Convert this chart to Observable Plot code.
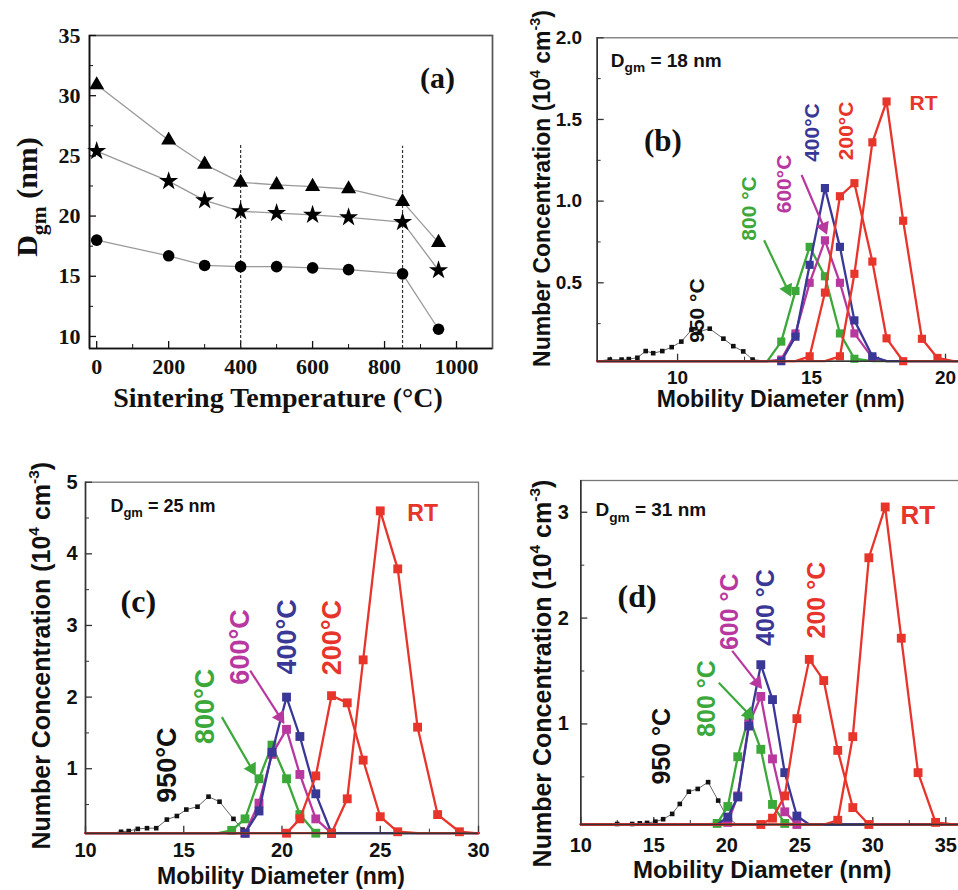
<!DOCTYPE html>
<html>
<head>
<meta charset="utf-8">
<script src="https://cdn.jsdelivr.net/npm/d3@7"></script>
<script src="https://cdn.jsdelivr.net/npm/@observablehq/plot@0.6"></script>
<style>
  html, body { margin: 0; padding: 0; background: #fff; overflow: hidden; }
  #wrap { position: relative; width: 958px; height: 890px; overflow: hidden; background: #fff; }
  .pan { position: absolute; }
</style>
</head>
<body>
<div id="wrap"></div>
<script>
// ---------------- DATA ----------------
// (a) geometric mean diameter vs sintering temperature
const tempsA = [0, 200, 300, 400, 500, 600, 700, 850, 950];
const dgmTriangle = [30.9, 26.3, 24.3, 22.8, 22.6, 22.45, 22.25, 21.2, 17.8];
const dgmStar = [25.4, 22.9, 21.3, 20.4, 20.25, 20.1, 19.9, 19.5, 15.5];
const dgmCircle = [18.0, 16.7, 15.9, 15.8, 15.8, 15.7, 15.55, 15.2, 10.6];
const dashedTemps = [400, 850];
const dashedTops = [26.0, 25.8];

// (b) Dgm = 18 nm
const bDiam950 = [7.0, 7.47, 7.91, 8.18, 8.5, 8.81, 9.09, 9.43, 9.78, 10.14, 10.52, 10.83, 11.2, 11.71, 12.08, 12.45, 12.8, 13.3];
const bConc950 = [0, 0.03, 0.03, 0.033, 0.041, 0.082, 0.069, 0.082, 0.106, 0.14, 0.212, 0.202, 0.219, 0.158, 0.112, 0.08, 0.03, 0];
const bDiam = [7, 13.35, 13.87, 14.4, 14.93, 15.5, 16.06, 16.6, 17.27, 17.8, 18.42, 19.12, 19.7, 20.3, 21];
const bConc800 = [0, 0, 0.14, 0.45, 0.72, 0.54, 0.19, 0.035, 0, 0, 0, 0, 0, 0, 0];
const bConc600 = [0, 0, 0.03, 0.19, 0.5, 0.76, 0.5, 0.19, 0.04, 0, 0, 0, 0, 0, 0];
const bConc400 = [0, 0, 0.02, 0.17, 0.61, 1.08, 0.72, 0.27, 0.05, 0, 0, 0, 0, 0, 0];
const bConc200 = [0, 0, 0, 0, 0.05, 0.44, 1.03, 1.11, 0.63, 0.16, 0.02, 0, 0, 0, 0];
const bConcRT  = [0, 0, 0, 0, 0, 0, 0.05, 0.555, 1.36, 1.61, 0.88, 0.157, 0.04, 0, 0];

// (c) Dgm = 25 nm
const cDiam950 = [11.3, 11.81, 12.2, 12.66, 13.13, 13.6, 14.14, 14.65, 15.13, 15.7, 16.26, 16.82, 17.53, 18.0, 18.48];
const cConc950 = [0, 0.12, 0.13, 0.16, 0.17, 0.17, 0.29, 0.34, 0.43, 0.47, 0.61, 0.54, 0.3, 0.15, 0];
const cDiam = [10, 16.75, 17.44, 18.12, 18.83, 19.49, 20.23, 20.91, 21.72, 22.52, 23.32, 24.13, 25.0, 25.89, 26.9, 27.92, 29.03, 29.84, 30];
const cConc800 = [0, 0, 0.14, 0.3, 0.86, 1.33, 0.86, 0.36, 0.05, 0, 0, 0, 0, 0, 0, 0, 0, 0, 0];
const cConc600 = [0, 0, 0, 0.1, 0.52, 1.2, 1.55, 0.92, 0.3, 0.1, 0, 0, 0, 0, 0, 0, 0, 0, 0];
const cConc400 = [0, 0, 0, 0.05, 0.41, 1.23, 2.0, 1.45, 0.65, 0.1, 0, 0, 0, 0, 0, 0, 0, 0, 0];
const cConc200 = [0, 0, 0, 0, 0, 0, 0.05, 0.3, 0.9, 2.02, 1.92, 1.12, 0.33, 0.12, 0, 0, 0, 0, 0];
const cConcRT  = [0, 0, 0, 0, 0, 0, 0, 0, 0, 0.05, 0.58, 2.52, 4.6, 3.79, 1.58, 0.36, 0.12, 0, 0];

// (d) Dgm = 31 nm
const dDiam950 = [10, 12.49, 13.52, 14.04, 14.54, 15.11, 15.64, 16.26, 16.78, 17.4, 18.01, 18.72, 19.41, 20.02, 20.7];
const dConc950 = [0, 0.055, 0.055, 0.061, 0.065, 0.077, 0.1, 0.15, 0.244, 0.36, 0.386, 0.45, 0.276, 0.118, 0];
const dDiam = [10, 18.6, 19.34, 20.07, 20.75, 21.51, 22.33, 23.13, 23.97, 24.8, 25.65, 26.64, 27.6, 28.63, 29.73, 30.85, 31.95, 33.1, 34.3, 35.5, 36.5];
const dConc800 = [0, 0, 0.06, 0.22, 0.69, 1.07, 0.76, 0.24, 0.06, 0, 0, 0, 0, 0, 0, 0, 0, 0, 0, 0, 0];
const dConc600 = [0, 0, 0, 0.07, 0.32, 1.0, 1.26, 0.67, 0.17, 0.05, 0, 0, 0, 0, 0, 0, 0, 0, 0, 0, 0];
const dConc400 = [0, 0, 0, 0.12, 0.31, 0.98, 1.56, 1.23, 0.54, 0.13, 0, 0, 0, 0, 0, 0, 0, 0, 0, 0, 0];
const dConc200 = [0, 0, 0, 0, 0, 0, 0.05, 0.11, 0.32, 1.05, 1.61, 1.41, 0.75, 0.21, 0.03, 0, 0, 0, 0, 0, 0];
const dConcRT  = [0, 0, 0, 0, 0, 0, 0, 0, 0, 0, 0, 0, 0.09, 0.88, 2.57, 3.05, 1.81, 0.54, 0.07, 0, 0];

// tick values
const aXTicks = [0, 200, 400, 600, 800, 1000], aXMinor = [100, 300, 500, 700, 900];
const aYTicks = [10, 15, 20, 25, 30, 35], aYMinor = [12.5, 17.5, 22.5, 27.5, 32.5];
const bXTicks = [10, 15, 20], bXMinor = [7.5, 12.5, 17.5];
const bYTicks = [0.5, 1.0, 1.5, 2.0], bYMinor = [0.25, 0.75, 1.25, 1.75];
const cXTicks = [10, 15, 20, 25, 30], cXMinor = [12.5, 17.5, 22.5, 27.5];
const cYTicks = [1, 2, 3, 4, 5], cYMinor = [0.5, 1.5, 2.5, 3.5, 4.5];
const dXTicks = [10, 15, 20, 25, 30, 35], dXMinor = [12.5, 17.5, 22.5, 27.5, 32.5];
const dYTicks = [1, 2, 3], dYMinor = [0.5, 1.5, 2.5];

// annotations (text, data coordinates)
const bNotes = [
  {key: "RT", text: "RT", x: 19.18, y: 1.6},
  {key: "200", text: "200°C", x: 16.31, y: 1.43},
  {key: "400", text: "400°C", x: 15.03, y: 1.42},
  {key: "600", text: "600°C", x: 13.97, y: 1.105},
  {key: "800", text: "800 °C", x: 12.67, y: 0.955},
  {key: "950", text: "950 °C", x: 10.75, y: 0.33}
];
const bArrows = [
  {key: "800", x1: 13.23, y1: 0.76, x2: 14.1, y2: 0.46},
  {key: "600", x1: 14.63, y1: 1.16, x2: 15.46, y2: 0.84}
];
const cNotes = [
  {key: "RT", text: "RT", x: 27.16, y: 4.56},
  {key: "200", text: "200°C", x: 22.57, y: 2.83},
  {key: "400", text: "400°C", x: 20.27, y: 2.84},
  {key: "600", text: "600°C", x: 17.87, y: 2.7},
  {key: "800", text: "800°C", x: 16.09, y: 1.87},
  {key: "950", text: "950°C", x: 14.15, y: 1.05}
];
const cArrows = [
  {key: "800", x1: 16.94, y1: 1.72, x2: 18.46, y2: 1.0},
  {key: "600", x1: 18.38, y1: 2.37, x2: 19.9, y2: 1.72}
];
const dNotes = [
  {key: "RT", text: "RT", x: 33.08, y: 2.97},
  {key: "200", text: "200 °C", x: 26.2, y: 2.17},
  {key: "400", text: "400 °C", x: 22.7, y: 2.1},
  {key: "600", text: "600 °C", x: 20.25, y: 2.06},
  {key: "800", text: "800 °C", x: 18.66, y: 1.24},
  {key: "950", text: "950 °C", x: 15.57, y: 0.79}
];
const dArrows = [
  {key: "800", x1: 19.45, y1: 1.39, x2: 21.5, y2: 1.095},
  {key: "600", x1: 20.37, y1: 1.69, x2: 22.08, y2: 1.39}
];

// ---------------- STYLE ----------------
const SANS = "'Liberation Sans', Arial, Helvetica, sans-serif";
const SERIF = "'Liberation Serif', 'Times New Roman', Times, serif";
const COLORS = {RT: "#e7352c", "200": "#e7352c", "400": "#3a3896", "600": "#b8389f", "800": "#3ca83a", "950": "#111111"};

function richify(svg) {
  svg.querySelectorAll("text").forEach(t => {
    const s = t.textContent;
    if (!/[_^]\{/.test(s)) return;
    const fs = parseFloat(getComputedStyle(t).fontSize) || 16;
    const parts = s.split(/([_^]\{[^}]*\})/).filter(p => p.length);
    t.textContent = "";
    let shift = 0;
    for (const p of parts) {
      const ts = document.createElementNS("http://www.w3.org/2000/svg", "tspan");
      let target = 0, txt = p, size = null;
      if (p.startsWith("_{")) { target = 0.28 * fs; txt = p.slice(2, -1); size = 0.72 * fs; }
      else if (p.startsWith("^{")) { target = -0.42 * fs; txt = p.slice(2, -1); size = 0.62 * fs; }
      const d = target - shift;
      if (d !== 0) ts.setAttribute("dy", d);
      if (size) ts.setAttribute("font-size", size);
      shift = target;
      ts.textContent = txt;
      t.appendChild(ts);
    }
  });
}

function series(xs, ys, key, r) {
  const data = xs.map((x, i) => ({x, y: ys[i]}));
  const black = key === "950";
  return [
    Plot.line(data, {x: "x", y: "y", stroke: black ? "#666" : COLORS[key], strokeWidth: black ? 1 : 2.3}),
    Plot.dot(data.filter(d => d.y > 0), {x: "x", y: "y", symbol: "square", fill: COLORS[key], r: black ? 2.6 : r})
  ];
}

function notes(list, fs, rtFs) {
  return list.map(n => Plot.text([n], {
    x: "x", y: "y", text: "text", fill: COLORS[n.key], rotate: n.key === "RT" ? 0 : -90,
    textAnchor: "middle", lineAnchor: "middle",
    fontSize: n.key === "RT" ? rtFs : fs, fontWeight: "bold", fontFamily: SANS
  }));
}

function panel(o) {
  const fw = o.width - o.ml - o.mr, fh = o.height - o.mt - o.mb;
  const kx = fw / (o.xDomain[1] - o.xDomain[0]), ky = fh / (o.yDomain[1] - o.yDomain[0]);
  const ax = o.axisColor || "#222";
  const font = o.font;
  // arrows: shaft + filled head oriented along the shaft (angle from the scales)
  const arrowMarks = (o.arrows || []).flatMap(a => {
    const sx = (a.x2 - a.x1) * kx, sy = -(a.y2 - a.y1) * ky;
    const ang = Math.atan2(sx, -sy) * 180 / Math.PI;
    return [
      Plot.link([a], {x1: "x1", y1: "y1", x2: "x2", y2: "y2", stroke: COLORS[a.key], strokeWidth: 2.2}),
      Plot.dot([a], {x: "x2", y: "y2", symbol: "triangle", fill: COLORS[a.key], r: 5.2, rotate: ang})
    ];
  });
  const marks = [
    Plot.frame({stroke: o.frameColor || "#777", strokeWidth: o.frameWidth || 1.3}),
    Plot.tickX(o.xTicks, {x: d => d, insetTop: fh - 7, stroke: ax, strokeWidth: 1.3}),
    Plot.tickX(o.xMinor, {x: d => d, insetTop: fh - 4, stroke: ax, strokeWidth: 1}),
    Plot.tickY(o.yTicks, {y: d => d, insetRight: fw - 7, stroke: ax, strokeWidth: 1.3}),
    Plot.tickY(o.yMinor, {y: d => d, insetRight: fw - 4, stroke: ax, strokeWidth: 1}),
    ...o.marks,
    ...arrowMarks,
    ...(o.after || []),
    Plot.ruleX([o.xDomain[0]], {stroke: ax, strokeWidth: 1.6}),
    Plot.ruleY([o.yDomain[0]], {stroke: ax, strokeWidth: 1.6}),
    Plot.axisX(o.xTicks, {tickSize: 0, tickPadding: o.xPad, tickFormat: o.xFmt || d3.format("d"), label: null,
      fontSize: o.tickFs, fontWeight: "bold", fontFamily: font, fill: "#111"}),
    Plot.axisY(o.yTicks, {tickSize: 0, tickPadding: o.yPad, tickFormat: o.yFmt || d3.format("d"), label: null,
      fontSize: o.tickFs, fontWeight: "bold", fontFamily: font, fill: "#111"}),
    Plot.text([o.xTitle], {frameAnchor: "bottom", dx: o.xTitleDx, dy: o.xTitleDy, text: d => d,
      textAnchor: "middle", lineAnchor: "middle",
      fontSize: o.titleFs, fontWeight: "bold", fontFamily: font, fill: "#111"}),
    Plot.text([o.yTitle], {frameAnchor: "left", dx: o.yTitleDx, dy: o.yTitleDy, text: d => d, rotate: -90,
      textAnchor: "middle", lineAnchor: "middle",
      fontSize: o.yTitleFs || o.titleFs, fontWeight: "bold", fontFamily: font, fill: "#111"})
  ];
  const svg = Plot.plot({
    width: o.width, height: o.height,
    marginLeft: o.ml, marginRight: o.mr, marginTop: o.mt, marginBottom: o.mb,
    x: {domain: o.xDomain},
    y: {domain: o.yDomain, clamp: !!o.clamp},
    style: {fontFamily: font, maxWidth: "none", overflow: "visible", background: "transparent"},
    marks
  });
  const div = document.createElement("div");
  div.className = "pan";
  div.style.left = o.left + "px";
  div.style.top = o.top + "px";
  div.appendChild(svg);
  document.getElementById("wrap").appendChild(div);
  richify(svg);
}

// ---------------- PANEL (a) ----------------
const aData = (ys) => tempsA.map((t, i) => ({t, v: ys[i]}));
panel({
  left: 0, top: 0, width: 500, height: 420, ml: 89, mr: 8, mt: 35, mb: 72,
  xDomain: [-20, 1100], yDomain: [9, 35],
  xTicks: aXTicks, xMinor: aXMinor, yTicks: aYTicks, yMinor: aYMinor,
  xPad: 10, yPad: 9, tickFs: 22, font: SERIF, frameColor: "#555", frameWidth: 1.7, axisColor: "#111",
  xTitle: "Sintering Temperature (°C)", xTitleDx: -13, xTitleDy: 50, titleFs: 28,
  yTitle: "D_{gm} (nm)", yTitleDx: -62, yTitleDy: 5, yTitleFs: 30,
  marks: [
    Plot.ruleX(dashedTemps.map((t, i) => ({t, top: dashedTops[i]})), {x: "t", y1: 9, y2: "top", stroke: "#333", strokeWidth: 1.2, strokeDasharray: "3,2"}),
    Plot.line(aData(dgmTriangle), {x: "t", y: "v", stroke: "#999", strokeWidth: 1.3}),
    Plot.line(aData(dgmStar), {x: "t", y: "v", stroke: "#999", strokeWidth: 1.3}),
    Plot.line(aData(dgmCircle), {x: "t", y: "v", stroke: "#999", strokeWidth: 1.3}),
    Plot.dot(aData(dgmTriangle), {x: "t", y: "v", symbol: "triangle", fill: "#000", r: 5.6}),
    Plot.dot(aData(dgmStar), {x: "t", y: "v", symbol: "star", fill: "#000", r: 6}),
    Plot.dot(aData(dgmCircle), {x: "t", y: "v", symbol: "circle", fill: "#000", r: 5.8}),
    Plot.text(["(a)"], {x: 947, y: 31.44, text: d => d, fontSize: 30, fontWeight: "bold", fontFamily: SERIF, fill: "#111"})
  ]
});

// ---------------- PANEL (b) ----------------
panel({
  left: 480, top: 0, width: 500, height: 410, ml: 116.7, mr: 8.2, mt: 37.3, mb: 49.3,
  xDomain: [7, 21], yDomain: [0.02, 2.0], clamp: true,
  xTicks: bXTicks, xMinor: bXMinor, yTicks: bYTicks, yMinor: bYMinor, yFmt: d3.format(".1f"),
  xPad: 9, yPad: 15, tickFs: 19, font: SANS, frameColor: "#777", axisColor: "#333",
  xTitle: "Mobility Diameter (nm)", xTitleDx: -4, xTitleDy: 38, titleFs: 23,
  yTitle: "Number Concentration (10^{4} cm^{-3})", yTitleDx: -55, yTitleDy: -11, yTitleFs: 23,
  marks: [
    ...series(bDiam950, bConc950, "950", 2.6),
    ...series(bDiam, bConc800, "800", 4.6),
    ...series(bDiam, bConc600, "600", 4.6),
    ...series(bDiam, bConc400, "400", 4.6),
    ...series(bDiam, bConc200, "200", 4.6),
    ...series(bDiam, bConcRT, "RT", 4.6)
  ],
  arrows: bArrows,
  after: [
    ...notes(bNotes, 21, 21),
    Plot.text(["D_{gm} = 18 nm"], {x: 7.51, y: 1.86, text: d => d, textAnchor: "start", fontSize: 19, fontWeight: "bold", fontFamily: SANS, fill: "#111"}),
    Plot.text(["(b)"], {x: 9.45, y: 1.37, text: d => d, fontSize: 31, fontWeight: "bold", fontFamily: SERIF, fill: "#111"})
  ]
});

// ---------------- PANEL (c) ----------------
panel({
  left: 0, top: 440, width: 490, height: 450, ml: 85, mr: 12, mt: 41.7, mb: 57.3,
  xDomain: [10, 30], yDomain: [0.1, 5], clamp: true,
  xTicks: cXTicks, xMinor: cXMinor, yTicks: cYTicks, yMinor: cYMinor,
  xPad: 10, yPad: 8, tickFs: 20, font: SANS, frameColor: "#777", axisColor: "#333",
  xTitle: "Mobility Diameter (nm)", xTitleDx: -1, xTitleDy: 43, titleFs: 23,
  yTitle: "Number Concentration (10^{4} cm^{-3})", yTitleDx: -44, yTitleDy: -2, yTitleFs: 25,
  marks: [
    ...series(cDiam950, cConc950, "950", 2.6),
    ...series(cDiam, cConc800, "800", 5),
    ...series(cDiam, cConc600, "600", 5),
    ...series(cDiam, cConc400, "400", 5),
    ...series(cDiam, cConc200, "200", 5),
    ...series(cDiam, cConcRT, "RT", 5)
  ],
  arrows: cArrows,
  after: [
    ...notes(cNotes, 27, 23),
    Plot.text(["D_{gm} = 25 nm"], {x: 11.27, y: 4.67, text: d => d, textAnchor: "start", fontSize: 18, fontWeight: "bold", fontFamily: SANS, fill: "#111"}),
    Plot.text(["(c)"], {x: 12.69, y: 3.33, text: d => d, fontSize: 32, fontWeight: "bold", fontFamily: SERIF, fill: "#111"})
  ]
});

// ---------------- PANEL (d) ----------------
panel({
  left: 480, top: 440, width: 500, height: 450, ml: 100.3, mr: 12.8, mt: 40, mb: 66,
  xDomain: [10, 36.5], yDomain: [0.05, 3.3], clamp: true,
  xTicks: dXTicks, xMinor: dXMinor, yTicks: dYTicks, yMinor: dYMinor,
  xPad: 13, yPad: 12, tickFs: 20, font: SANS, frameColor: "#777", axisColor: "#333",
  xTitle: "Mobility Diameter (nm)", xTitleDx: -12, xTitleDy: 46, titleFs: 24,
  yTitle: "Number Concentration (10^{4} cm^{-3})", yTitleDx: -38, yTitleDy: 21, yTitleFs: 25,
  marks: [
    ...series(dDiam950, dConc950, "950", 2.6),
    ...series(dDiam, dConc800, "800", 5),
    ...series(dDiam, dConc600, "600", 5),
    ...series(dDiam, dConc400, "400", 5),
    ...series(dDiam, dConc200, "200", 5),
    ...series(dDiam, dConcRT, "RT", 5)
  ],
  arrows: dArrows,
  after: [
    ...notes(dNotes, 25, 26),
    Plot.text(["D_{gm} = 31 nm"], {x: 11.0, y: 3.02, text: d => d, textAnchor: "start", fontSize: 19, fontWeight: "bold", fontFamily: SANS, fill: "#111"}),
    Plot.text(["(d)"], {x: 13.86, y: 2.2, text: d => d, fontSize: 32, fontWeight: "bold", fontFamily: SERIF, fill: "#111"})
  ]
});
</script>
</body>
</html>
